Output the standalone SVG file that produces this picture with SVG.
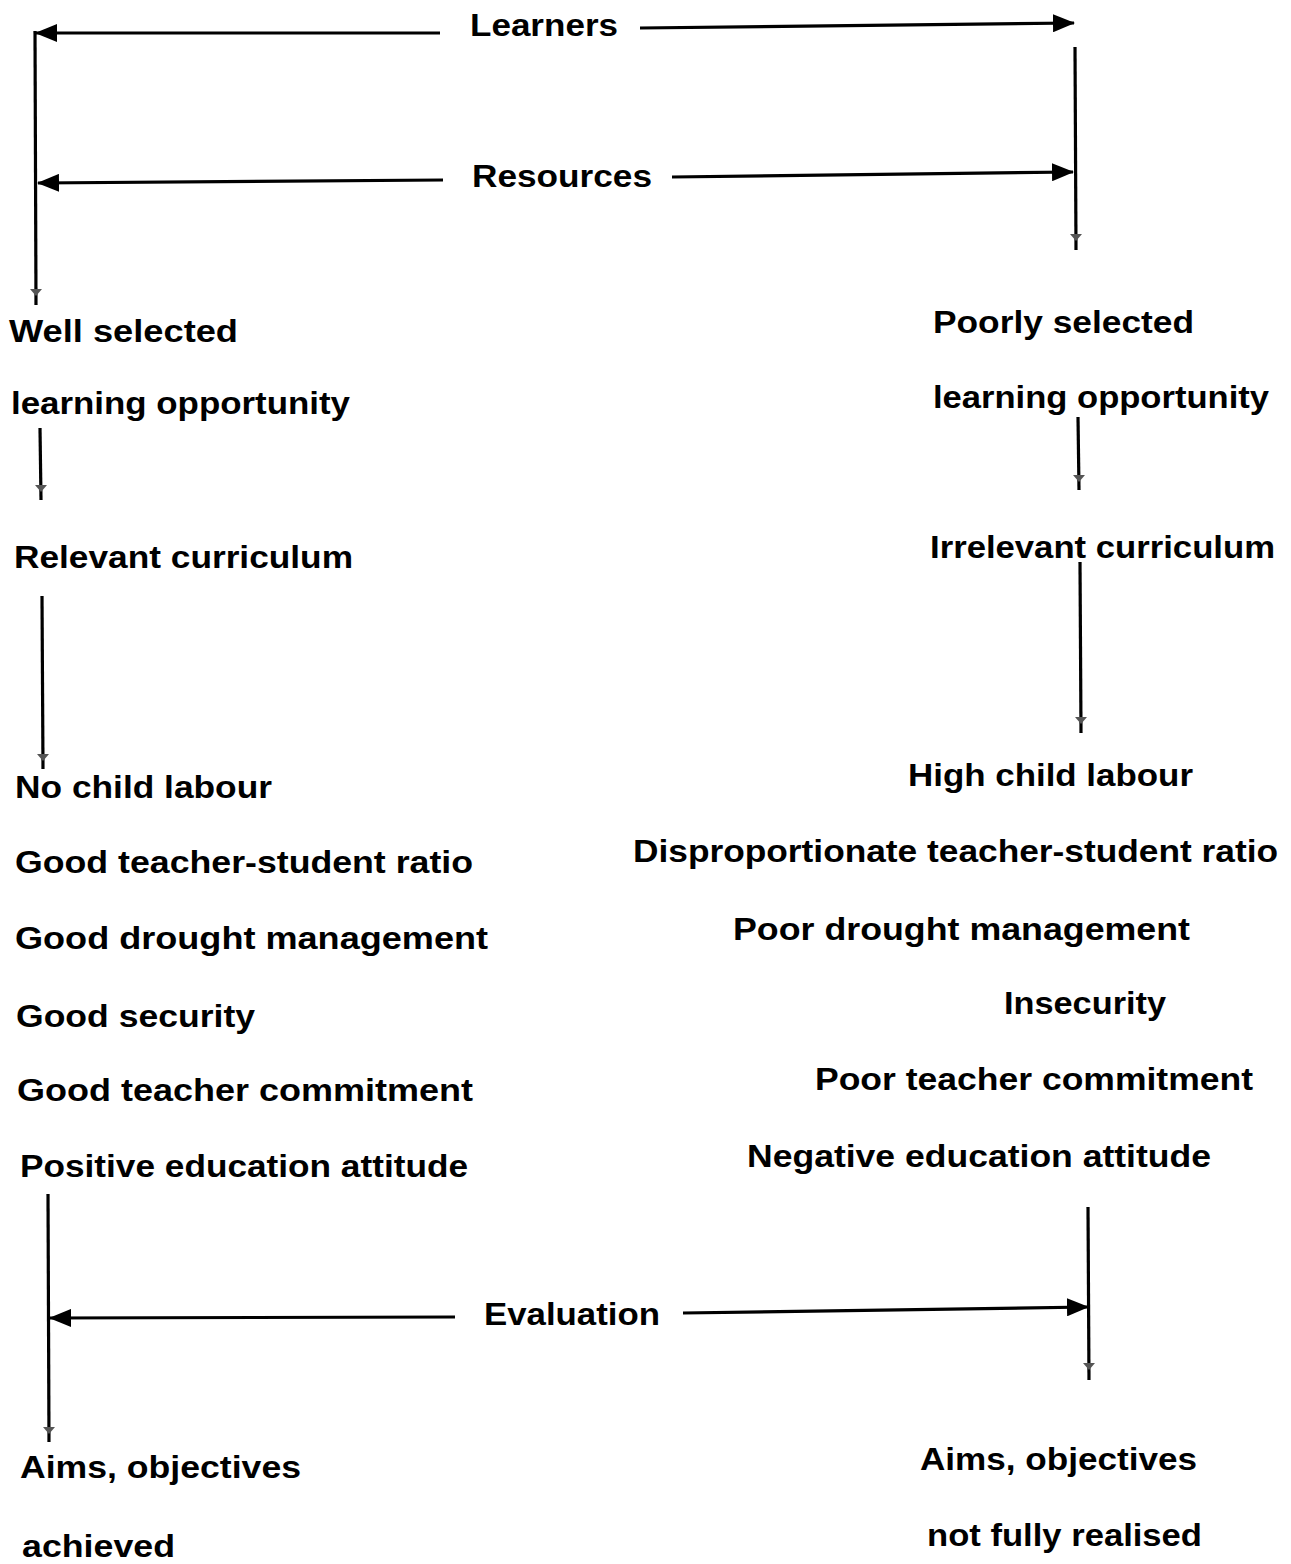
<svg xmlns="http://www.w3.org/2000/svg" width="1291" height="1564" viewBox="0 0 1291 1564">
<style>
text{font-family:"Liberation Sans",Arial,sans-serif;font-weight:bold;font-size:31px;fill:#000}
.ln{stroke:#000;stroke-width:3.2;fill:none}
.fh{fill:#555}
</style>
<defs>
<marker id="ah" markerUnits="userSpaceOnUse" markerWidth="22" markerHeight="18" viewBox="0 0 22 18" refX="21" refY="9" orient="auto">
<path d="M0,0 L22,9 L0,18 Z" fill="#000"/>
</marker>
</defs>
<rect width="1291" height="1564" fill="#fff"/>
<g id="connectors">
<line class="ln" x1="440" y1="33" x2="36" y2="33" marker-end="url(#ah)"/>
<line class="ln" x1="35" y1="31" x2="36" y2="305"/>
<line class="ln" x1="443" y1="180" x2="38" y2="183" marker-end="url(#ah)"/>
<line class="ln" x1="640" y1="28" x2="1074" y2="23" marker-end="url(#ah)"/>
<line class="ln" x1="1075" y1="47" x2="1076" y2="250"/>
<line class="ln" x1="672" y1="177" x2="1073" y2="172" marker-end="url(#ah)"/>
<line class="ln" x1="40" y1="428" x2="41" y2="500"/>
<line class="ln" x1="42" y1="596" x2="43" y2="769"/>
<line class="ln" x1="1078" y1="417" x2="1079" y2="490"/>
<line class="ln" x1="1080" y1="562" x2="1081" y2="733"/>
<line class="ln" x1="48" y1="1194" x2="49" y2="1442"/>
<line class="ln" x1="455" y1="1317" x2="50" y2="1318" marker-end="url(#ah)"/>
<line class="ln" x1="1088" y1="1207" x2="1089" y2="1380"/>
<line class="ln" x1="683" y1="1313" x2="1088" y2="1307" marker-end="url(#ah)"/>
<polygon class="fh" points="30,289 42,289 36,296"/>
<polygon class="fh" points="1070,234 1082,234 1076,241"/>
<polygon class="fh" points="35,485 47,485 41,492"/>
<polygon class="fh" points="37,754 49,754 43,761"/>
<polygon class="fh" points="1073,475 1085,475 1079,482"/>
<polygon class="fh" points="1075,717 1087,717 1081,724"/>
<polygon class="fh" points="43,1427 55,1427 49,1434"/>
<polygon class="fh" points="1083,1363 1095,1363 1089,1370"/>
</g>
<g id="learners"><text x="470" y="36" textLength="148" lengthAdjust="spacingAndGlyphs">Learners</text></g>
<g id="resources"><text x="472" y="187" textLength="180" lengthAdjust="spacingAndGlyphs">Resources</text></g>
<g id="left-selected">
<text x="9" y="342" textLength="229" lengthAdjust="spacingAndGlyphs">Well selected</text>
<text x="11" y="414" textLength="339" lengthAdjust="spacingAndGlyphs">learning opportunity</text>
</g>
<g id="left-curriculum"><text x="14" y="568" textLength="339" lengthAdjust="spacingAndGlyphs">Relevant curriculum</text></g>
<g id="left-factors">
<text x="15" y="798" textLength="257" lengthAdjust="spacingAndGlyphs">No child labour</text>
<text x="15" y="873" textLength="458" lengthAdjust="spacingAndGlyphs">Good teacher-student ratio</text>
<text x="15" y="949" textLength="473" lengthAdjust="spacingAndGlyphs">Good drought management</text>
<text x="16" y="1027" textLength="239" lengthAdjust="spacingAndGlyphs">Good security</text>
<text x="17" y="1101" textLength="456" lengthAdjust="spacingAndGlyphs">Good teacher commitment</text>
<text x="20" y="1177" textLength="448" lengthAdjust="spacingAndGlyphs">Positive education attitude</text>
</g>
<g id="evaluation"><text x="484" y="1325" textLength="176" lengthAdjust="spacingAndGlyphs">Evaluation</text></g>
<g id="left-outcome">
<text x="20" y="1478" textLength="281" lengthAdjust="spacingAndGlyphs">Aims, objectives</text>
<text x="22" y="1557" textLength="153" lengthAdjust="spacingAndGlyphs">achieved</text>
</g>
<g id="right-selected">
<text x="933" y="333" textLength="261" lengthAdjust="spacingAndGlyphs">Poorly selected</text>
<text x="933" y="408" textLength="336" lengthAdjust="spacingAndGlyphs">learning opportunity</text>
</g>
<g id="right-curriculum"><text x="930" y="558" textLength="345" lengthAdjust="spacingAndGlyphs">Irrelevant curriculum</text></g>
<g id="right-factors">
<text x="908" y="786" textLength="285" lengthAdjust="spacingAndGlyphs">High child labour</text>
<text x="633" y="862" textLength="645" lengthAdjust="spacingAndGlyphs">Disproportionate teacher-student ratio</text>
<text x="733" y="940" textLength="457" lengthAdjust="spacingAndGlyphs">Poor drought management</text>
<text x="1004" y="1014" textLength="162" lengthAdjust="spacingAndGlyphs">Insecurity</text>
<text x="815" y="1090" textLength="438" lengthAdjust="spacingAndGlyphs">Poor teacher commitment</text>
<text x="747" y="1167" textLength="464" lengthAdjust="spacingAndGlyphs">Negative education attitude</text>
</g>
<g id="right-outcome">
<text x="920" y="1470" textLength="277" lengthAdjust="spacingAndGlyphs">Aims, objectives</text>
<text x="927" y="1546" textLength="275" lengthAdjust="spacingAndGlyphs">not fully realised</text>
</g>
</svg>
